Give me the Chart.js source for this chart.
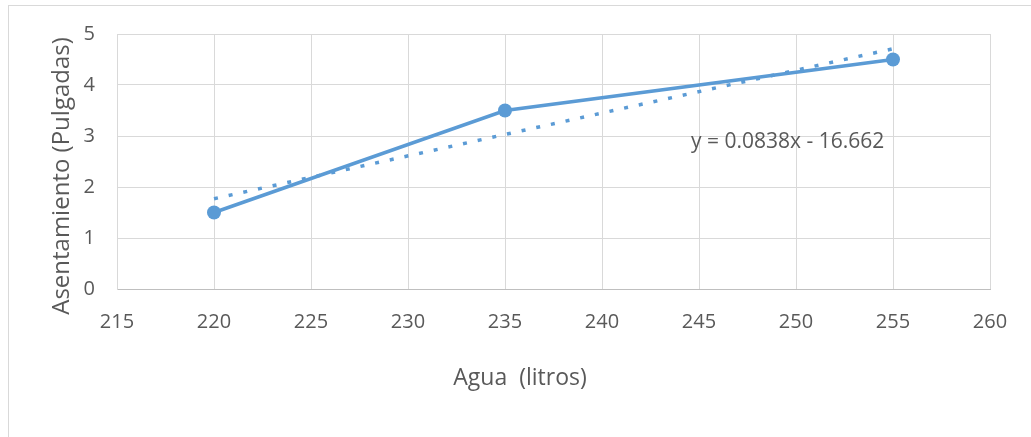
<!DOCTYPE html>
<html>
<head>
<meta charset="utf-8">
<script src="https://cdn.jsdelivr.net/npm/chart.js"></script>
<style>
  html, body { margin: 0; padding: 0; background: #fff; }
  #wrap { position: relative; width: 1031px; height: 437px; overflow: hidden; }
  #frame { position: absolute; left: 8px; top: 5px; width: 1040px; height: 460px; border: 1px solid #D9D9D9; box-sizing: border-box; }
  #chart { position: absolute; left: 0; top: 0; }
</style>
</head>
<body>
<div id="wrap">
  <div id="frame"></div>
  <canvas id="chart" width="1031" height="437"></canvas>
</div>
<script>
// valores
const agua = [220, 235, 255];
const asentamiento = [1.5, 3.5, 4.5];
// linea de tendencia (extremos leidos)
const trendX = [220, 255];
const trendY = [1.77, 4.71];
const ecuacion = 'y = 0.0838x - 16.662';
const xTitle = 'Agua  (litros)';
const yTitle = 'Asentamiento (Pulgadas)';

const azul = '#5B9BD5';
const gris = '#595959';
const FONT = '"Open Sans", sans-serif';

const titlesPlugin = {
  id: 'titles',
  afterDraw(chart) {
    const { ctx } = chart;
    ctx.save();
    ctx.fillStyle = gris;
    ctx.textAlign = 'center';
    ctx.textBaseline = 'middle';
    ctx.font = '23px ' + FONT;
    ctx.fillText(xTitle, 520, 378);
    ctx.translate(62, 176);
    ctx.rotate(-Math.PI / 2);
    ctx.font = '24px ' + FONT;
    ctx.fillText(yTitle, 0, 0);
    ctx.restore();

    ctx.save();
    ctx.fillStyle = gris;
    ctx.font = '21px ' + FONT;
    ctx.textAlign = 'left';
    ctx.textBaseline = 'middle';
    ctx.fillText(ecuacion, 691, 142);
    ctx.restore();
  }
};

new Chart(document.getElementById('chart'), {
  type: 'scatter',
  data: {
    datasets: [
      {
        data: trendX.map((x, i) => ({ x, y: trendY[i] })),
        showLine: true,
        borderColor: azul,
        borderWidth: 3.5,
        borderDash: [4, 11],
        pointRadius: 0,
        order: 2
      },
      {
        data: agua.map((x, i) => ({ x, y: asentamiento[i] })),
        showLine: true,
        borderColor: azul,
        backgroundColor: azul,
        borderWidth: 3.5,
        pointRadius: 7,
        pointBorderWidth: 0,
        order: 1
      }
    ]
  },
  options: {
    responsive: false,
    animation: false,
    layout: { padding: { top: 34, right: 41, left: 0, bottom: 0 } },
    plugins: { legend: { display: false }, tooltip: { enabled: false } },
    scales: {
      x: {
        type: 'linear',
        min: 215, max: 260,
        ticks: { stepSize: 5, color: gris, font: { family: FONT, size: 20 }, padding: 21 },
        grid: { color: '#D9D9D9', drawTicks: false },
        border: { color: '#BFBFBF' },
        afterFit(s) { s.height = 148; }
      },
      y: {
        min: 0, max: 5,
        ticks: { stepSize: 1, color: gris, font: { family: FONT, size: 20 }, padding: 22 },
        grid: { color: '#D9D9D9', drawTicks: false },
        border: { color: '#D9D9D9' },
        afterFit(s) { s.width = 117; }
      }
    }
  },
  plugins: [titlesPlugin]
});
</script>
</body>
</html>
